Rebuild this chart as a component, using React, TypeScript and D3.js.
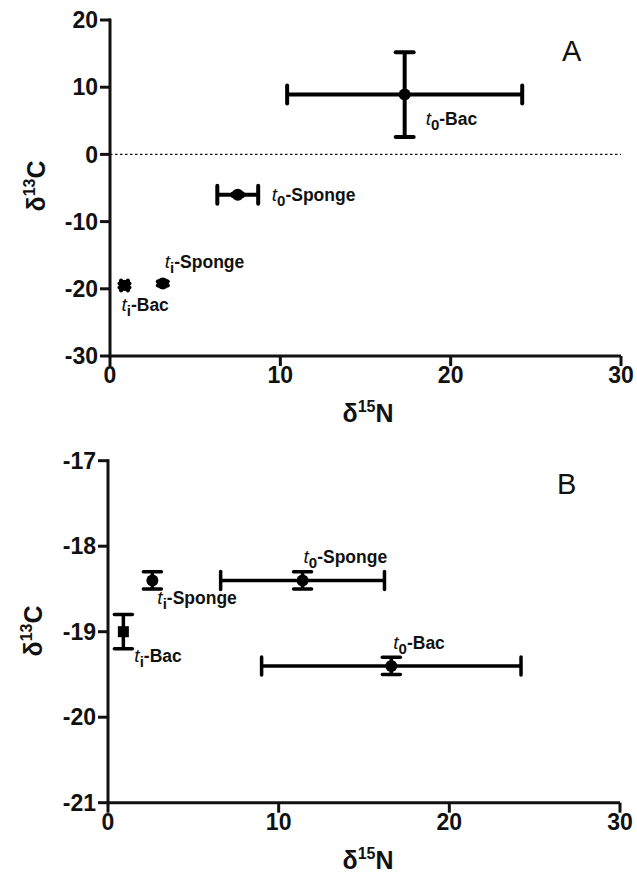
import React, { useEffect } from "react";
import * as d3 from "d3";

const groups = ["t0-Bac", "t0-Sponge", "ti-Sponge", "ti-Bac"];
const subs = ["0", "0", "i", "i"];
const names = ["-Bac", "-Sponge", "-Sponge", "-Bac"];
const markers = ["circle", "circle", "circle", "square"];

const aX = [17.3, 7.5, 3.1, 0.85];
const aXerr = [6.9, 1.2, 0.0, 0.2];
const aY = [8.9, -6.0, -19.2, -19.5];
const aYerr = [6.3, 0.2, 0.3, 0.3];

const bX = [16.6, 11.4, 2.6, 0.9];
const bXerr = [7.6, 4.8, 0.0, 0.0];
const bY = [-19.4, -18.4, -18.4, -19.0];
const bYerr = [0.1, 0.1, 0.1, 0.2];

const xTicks = [0, 10, 20, 30];
const aYTicks = [-30, -20, -10, 0, 10, 20];
const bYTicks = [-21, -20, -19, -18, -17];

// label offsets (px) relative to point
const aLabelOff: [number, number][] = [[21, 30], [34, 6], [2, -15], [-3, 26]];
const bLabelOff: [number, number][] = [[2, -17], [1, -17], [5, 24], [11, 30]];

const FONT = "'Liberation Sans', Arial, sans-serif";

type PanelProps = {
  xs: number[]; xe: number[]; ys: number[]; ye: number[];
  yDomain: [number, number]; yTicks: number[];
  xRange: [number, number]; yRange: [number, number];
  letter: string; letterPos: [number, number];
  labelOff: [number, number][];
  xTitleY: number; yTitlePos: [number, number];
  zeroLine: boolean; ebWidth: number;
};

function Label({ x, y, sub, name }: { x: number; y: number; sub: string; name: string }) {
  return (
    <text x={x} y={y} fontFamily={FONT} fontSize={17.5} fontWeight="bold" fill="#111">
      <tspan fontStyle="italic" fontSize={19} fontWeight="normal">t</tspan>
      <tspan dy={5} fontSize={15}>{sub}</tspan>
      <tspan dy={-5}>{name}</tspan>
    </text>
  );
}

function Panel(p: PanelProps) {
  const x = d3.scaleLinear().domain([0, 30]).range(p.xRange);
  const y = d3.scaleLinear().domain(p.yDomain).range(p.yRange);
  const x0 = p.xRange[0];
  const yB = p.yRange[0];
  const cap = 9;
  return (
    <g>
      <line x1={x0} x2={x0} y1={p.yRange[1] - 1.5} y2={yB + 1.5} stroke="#111" strokeWidth={3} />
      <line x1={x0 - 1.5} x2={p.xRange[1]} y1={yB} y2={yB} stroke="#111" strokeWidth={3} />
      {p.yTicks.map((t) => (
        <g key={"yt" + t}>
          <line x1={x0 - 10} x2={x0} y1={y(t)} y2={y(t)} stroke="#111" strokeWidth={3} />
          <text x={x0 - 12} y={y(t)} dy="0.36em" textAnchor="end" fontFamily={FONT} fontWeight="bold" fontSize={23} fill="#111">{t}</text>
        </g>
      ))}
      {xTicks.map((t) => (
        <g key={"xt" + t}>
          <line x1={x(t)} x2={x(t)} y1={yB} y2={yB + 10} stroke="#111" strokeWidth={3} />
          <text x={x(t)} y={yB + 27} textAnchor="middle" fontFamily={FONT} fontWeight="bold" fontSize={23} fill="#111">{t}</text>
        </g>
      ))}
      {p.zeroLine && (
        <line x1={x0} x2={p.xRange[1]} y1={y(0)} y2={y(0)} stroke="#111" strokeWidth={1.3} strokeDasharray="2.5,2.5" />
      )}
      <text x={368} y={p.xTitleY} textAnchor="middle" fontFamily={FONT} fontWeight="bold" fontSize={25} fill="#111">
        δ<tspan dy={-10} fontSize={16}>15</tspan><tspan dy={10}>N</tspan>
      </text>
      <text transform={`translate(${p.yTitlePos[0]},${p.yTitlePos[1]}) rotate(-90)`} textAnchor="middle" fontFamily={FONT} fontWeight="bold" fontSize={25} fill="#111">
        δ<tspan dy={-10} fontSize={16}>13</tspan><tspan dy={10}>C</tspan>
      </text>
      <text x={p.letterPos[0]} y={p.letterPos[1]} fontFamily={FONT} fontSize={29} fill="#111">{p.letter}</text>
      {groups.map((g, i) => {
        const cx = x(p.xs[i]);
        const cy = y(p.ys[i]);
        const xl = x(p.xs[i] - p.xe[i]);
        const xr = x(p.xs[i] + p.xe[i]);
        const yt = y(p.ys[i] + p.ye[i]);
        const yb = y(p.ys[i] - p.ye[i]);
        const sw = p.ebWidth;
        const showX = cx - xl > 6;
        const showY = yb - cy > 6;
        const xc = showX ? cap : 5;
        const yc = showY ? cap : 5;
        return (
          <g key={g}>
            <line x1={xl} x2={xr} y1={cy} y2={cy} stroke="#000" strokeWidth={sw} />
            {p.xe[i] > 0 && (
              <>
                <line x1={xl} x2={xl} y1={cy - xc} y2={cy + xc} stroke="#000" strokeWidth={sw} strokeLinecap="round" />
                <line x1={xr} x2={xr} y1={cy - xc} y2={cy + xc} stroke="#000" strokeWidth={sw} strokeLinecap="round" />
              </>
            )}
            <line x1={cx} x2={cx} y1={yt} y2={yb} stroke="#000" strokeWidth={sw} />
            {p.ye[i] > 0 && (
              <>
                <line x1={cx - yc} x2={cx + yc} y1={yt} y2={yt} stroke="#000" strokeWidth={sw} strokeLinecap="round" />
                <line x1={cx - yc} x2={cx + yc} y1={yb} y2={yb} stroke="#000" strokeWidth={sw} strokeLinecap="round" />
              </>
            )}
            {markers[i] === "circle" ? (
              <circle cx={cx} cy={cy} r={6} fill="#000" />
            ) : (
              <rect x={cx - 5.5} y={cy - 5.5} width={11} height={11} fill="#000" />
            )}
            <Label x={cx + p.labelOff[i][0]} y={cy + p.labelOff[i][1]} sub={subs[i]} name={names[i]} />
          </g>
        );
      })}
    </g>
  );
}

export default function App() {
  useEffect(() => {
    document.body.style.margin = "0";
  }, []);
  return (
    <svg width={637} height={875} style={{ display: "block", background: "#fff" }}>
      <Panel
        xs={aX} xe={aXerr} ys={aY} ye={aYerr}
        yDomain={[-30, 20]} yTicks={aYTicks}
        xRange={[110, 621]} yRange={[356, 20]}
        letter="A" letterPos={[562, 61]}
        labelOff={aLabelOff}
        xTitleY={422} yTitlePos={[45, 186]}
        zeroLine={true} ebWidth={4}
      />
      <Panel
        xs={bX} xe={bXerr} ys={bY} ye={bYerr}
        yDomain={[-21, -17]} yTicks={bYTicks}
        xRange={[108, 620]} yRange={[802.7, 460.7]}
        letter="B" letterPos={[557, 494]}
        labelOff={bLabelOff}
        xTitleY={869} yTitlePos={[42, 631]}
        zeroLine={false} ebWidth={3.5}
      />
    </svg>
  );
}
